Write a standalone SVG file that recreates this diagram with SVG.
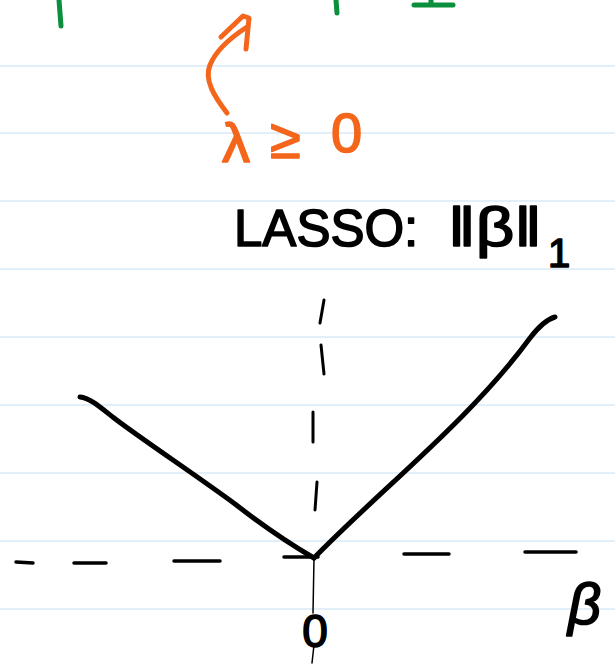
<svg xmlns="http://www.w3.org/2000/svg" width="615" height="667" viewBox="0 0 615 667">
<style>
.rule{stroke:#d8e9f6;stroke-width:1.5}
.ink{fill:none;stroke:#000;stroke-linecap:round;stroke-linejoin:round}
.or{fill:none;stroke:#f4661b;stroke-width:5;stroke-linecap:round;stroke-linejoin:round}
.gr{fill:none;stroke:#0a8f3c;stroke-width:5;stroke-linecap:round}
.hand{font-family:"Liberation Sans","DejaVu Sans",sans-serif;stroke-linejoin:round}
.blk{fill:#000;stroke:#000;stroke-width:1.6}
.otx{fill:#f4661b;stroke:#f4661b;stroke-width:1.6}
</style>
<rect width="615" height="667" fill="#fff"/>
<g id="ruling">
<line class="rule" x1="0" y1="66" x2="615" y2="66"/>
<line class="rule" x1="0" y1="133" x2="615" y2="133"/>
<line class="rule" x1="0" y1="201" x2="615" y2="201"/>
<line class="rule" x1="0" y1="269" x2="615" y2="269"/>
<line class="rule" x1="0" y1="337" x2="615" y2="337"/>
<line class="rule" x1="0" y1="405" x2="615" y2="405"/>
<line class="rule" x1="0" y1="473" x2="615" y2="473"/>
<line class="rule" x1="0" y1="541" x2="615" y2="541"/>
<line class="rule" x1="0" y1="609" x2="615" y2="609"/>
</g>
<g id="green-fragments">
<path class="gr" d="M59 0 L61 26"/>
<path class="gr" d="M336 0 L337 13"/>
<path class="gr" d="M414 5 L453 5 M431 0 L431 5"/>
</g>
<g id="orange-note">
<path class="or" d="M227 113 C214 96 204 80 210 65 C216 50 230 38 247 27"/>
<path class="or" d="M221 37 L243 16 L249 18 L246 49"/>
<text class="hand otx" x="222 270 331" y="162 158 152" font-size="56">λ≥0</text>
</g>
<g id="title">
<text class="hand blk" x="234" y="246" font-size="51">LASSO:</text>
<text class="hand blk" x="448" y="246" font-size="56" textLength="94" lengthAdjust="spacingAndGlyphs">‖β‖</text>
<text class="hand blk" x="548" y="267" font-size="40">1</text>
</g>
<g id="axes">
<path class="ink" stroke-width="3.5" d="M16 562 L33 563 M74 563 L106 563 M174 561 L220 561 M284 557 L318 557 M404 554 L449 554 M525 552 L576 552"/>
<path class="ink" stroke-width="3" d="M324 300 L320 323 M321 345 L324 374 M313 412 L313 442 M317 482 L315 510"/>
<path class="ink" stroke-width="1.5" d="M314 558 L313 613 M314 645 L312 663"/>
</g>
<g id="curve">
<path class="ink" stroke-width="5" d="M80 397 C90 398 100 407 114 418 C140 438 200 478 235 504 C262 525 290 544 314 558"/>
<path class="ink" stroke-width="5" d="M314 558 C380 490 470 420 530 338 C540 325 548 319 555 317"/>
</g>
<g id="labels">
<text class="hand blk" x="315" y="647" font-size="46" text-anchor="middle">0</text>
<text class="hand blk" x="568" y="624" font-size="58" font-style="italic">β</text>
</g>
</svg>
